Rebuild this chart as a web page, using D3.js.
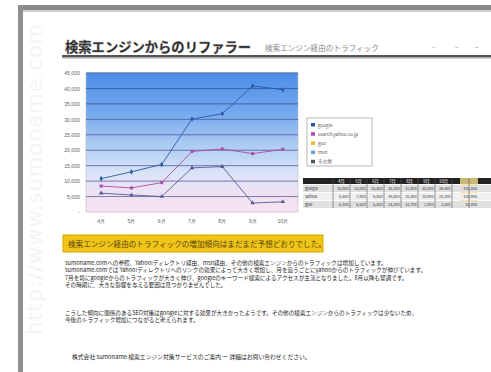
<!DOCTYPE html>
<html><head><meta charset="utf-8">
<script src="https://cdn.jsdelivr.net/npm/d3@7"></script>
<style>
html,body{margin:0;padding:0;background:#fff;overflow:hidden}
svg{display:block;font-family:"Noto Sans CJK JP","Noto Sans",sans-serif}
</style></head>
<body><svg id="c" width="491" height="372"></svg>
<script>
const categories = ["4月","5月","6月","7月","8月","9月","10月"];
const yTicks = [0,5000,10000,15000,20000,25000,30000,35000,40000,45000];
const seriesNames = ["google","search.yahoo.co.jp","goo","msn","その他"];
const tableRowLabels = ["google","yahoo","goo"];
const google = [10800, 13000, 15400, 30100, 31800, 40800, 39600];
const yahoo  = [8400, 7800, 9500, 19600, 20400, 18900, 20300];
const goo    = [6100, 5500, 5000, 14300, 14700, 2900, 3300];
const titleText = "検索エンジンからのリファラー";
const subtitleText = "検索エンジン経由のトラフィック";
const highlightText = "検索エンジン経由のトラフィックの増加傾向はまだまだ予想どおりでした。";
const para1 = [
  "sumoname.comへの参照、Yahoo!ディレクトリ経由、msn経由、その他の検索エンジンからのトラフィックは増加しています。",
  "sumoname.comでは Yahoo!ディレクトリへのリンクの効果によって大きく増加し、月を追うごとにyahooからのトラフィックが伸びています。",
  "7月を境にgoogleからのトラフィックが大きく伸び、googleのキーワード検索によるアクセスが主流となりました。8月以降も堅調です。",
  "その時期に、大きな影響を与える要因は見つかりませんでした。"
];
const para2 = [
  "こうした傾向に関係のあるSEO対策はgoogleに対する効果が大きかったようです。その他の検索エンジンからのトラフィックは少ないため、",
  "今後のトラフィック増加につながると考えられます。"
];
const footText = "株式会社 sumoname 検索エンジン対策サービスのご案内 ー 詳細はお問い合わせください。";

const svg = d3.select("#c");
const defs = svg.append("defs");

// page frame
svg.append("rect").attr("x",18).attr("y",5).attr("width",473).attr("height",5).attr("fill","#8a8a8a");
svg.append("rect").attr("x",18).attr("y",5).attr("width",5).attr("height",367).attr("fill","#8f8f8f");
svg.append("rect").attr("x",23).attr("y",10).attr("width",468).attr("height",2).attr("fill","#d0d0d0");

// watermark
svg.append("text").attr("transform","translate(42,335) rotate(-90)")
  .attr("font-size",21).attr("fill","#f4f4f4").attr("font-family","DejaVu Sans")
  .attr("letter-spacing",1).text("http://www.sumoname.com");

// title
svg.append("text").attr("x",65).attr("y",52).attr("font-size",13.3).attr("font-weight","bold")
  .attr("fill","#222").attr("stroke","#777").attr("stroke-width",0.45).text(titleText);
svg.append("text").attr("x",265).attr("y",51).attr("font-size",7.6).attr("fill","#8a8a8a").text(subtitleText);
svg.append("rect").attr("x",62).attr("y",55).attr("width",429).attr("height",2.5).attr("fill","#555");
svg.append("rect").attr("x",62).attr("y",57.5).attr("width",429).attr("height",1).attr("fill","#aaa");
svg.append("text").attr("x",432).attr("y",49).attr("font-size",6).attr("fill","#c06060").text("–");
svg.append("text").attr("x",455).attr("y",49).attr("font-size",6).attr("fill","#555").text("–");
svg.append("text").attr("x",475).attr("y",49).attr("font-size",6).attr("fill","#555").text("–");

// chart
const x = d3.scaleBand().domain(categories).range([86,298]).padding(0);
const y = d3.scaleLinear().domain([0,45000]).range([212,73]);

const grad = defs.append("linearGradient").attr("id","bg").attr("x1",0).attr("y1",0).attr("x2",0).attr("y2",1);
[[0,"#4a8ee6"],[0.3,"#78aaee"],[0.55,"#b4d0f3"],[0.72,"#d9e4f6"],[0.85,"#ece2f4"],[1,"#f7e3f2"]]
  .forEach(([o,c])=>grad.append("stop").attr("offset",o).attr("stop-color",c));
svg.append("rect").attr("x",86).attr("y",73).attr("width",212).attr("height",139)
  .attr("fill","url(#bg)").attr("stroke","#bbb").attr("stroke-width",0.6);

const gridColor = d3.scaleLinear().domain([0,45000]).range(["#8a7fa8","#2f5fa8"]);
svg.append("g").selectAll("line").data(yTicks.filter(d=>d>0)).join("line")
  .attr("x1",86).attr("x2",298).attr("y1",d=>y(d)).attr("y2",d=>y(d))
  .attr("stroke",d=>gridColor(d)).attr("stroke-width",1);

const yAxis = svg.append("g").attr("transform","translate(80,0)")
  .call(d3.axisLeft(y).tickValues(yTicks).tickSize(0).tickPadding(0)
    .tickFormat(d=> d===0 ? "-" : d3.format(",")(d)));
yAxis.select(".domain").remove();
yAxis.selectAll("text").attr("font-size",5.2).attr("fill","#666").attr("font-family","Liberation Sans");

const xAxis = svg.append("g").attr("transform","translate(0,219)")
  .call(d3.axisBottom(x).tickSize(0).tickPadding(0));
xAxis.select(".domain").remove();
xAxis.selectAll("text").attr("font-size",5.2).attr("fill","#666");

const line = d3.line().x((d,i)=>x(categories[i])+x.bandwidth()/2).y(d=>y(d));
const series = [
  {v:google, c:"#2a58a8", m:"diamond"},
  {v:yahoo,  c:"#b04aa8", m:"square"},
  {v:goo,    c:"#5a5a98", m:"triangle"}
];
series.forEach(s=>{
  svg.append("path").attr("d",line(s.v)).attr("fill","none").attr("stroke",s.c).attr("stroke-width",0.9);
  const sym = d3.symbol().type(s.m==="diamond"?d3.symbolDiamond:s.m==="square"?d3.symbolSquare:d3.symbolTriangle).size(9);
  svg.append("g").selectAll("path").data(s.v).join("path")
    .attr("transform",(d,i)=>`translate(${x(categories[i])+x.bandwidth()/2},${y(d)})`)
    .attr("d",sym).attr("fill",s.c);
});

// legend
svg.append("rect").attr("x",307).attr("y",118).attr("width",65).attr("height",48)
  .attr("fill","#fff").attr("stroke","#888").attr("stroke-width",0.6);
const legColors = ["#2a58a8","#b04aa8","#e0c030","#6aa0d0","#555"];
const leg = svg.append("g").selectAll("g").data(seriesNames).join("g")
  .attr("transform",(d,i)=>`translate(311,${125+i*9.2})`);
leg.append("rect").attr("x",0).attr("y",-2).attr("width",4).attr("height",3.5).attr("fill",(d,i)=>legColors[i]);
leg.append("text").attr("x",7).attr("y",1.5).attr("font-size",4.6).attr("fill","#555").text(d=>d);

// data table
const tx0 = 303, tw0 = 30, tcw = 17, ty0 = 178;
const cols = categories.length;
svg.append("rect").attr("x",tx0).attr("y",ty0).attr("width",191).attr("height",6).attr("fill","#222");
svg.append("rect").attr("x",tx0+tw0+cols*tcw+8).attr("y",ty0).attr("width",18).attr("height",30).attr("fill","#f5e08a").attr("opacity",0.8);
const rows = [google,yahoo,goo];
rows.forEach((r,ri)=>{
  const ry = ty0+7+ri*8;
  svg.append("rect").attr("x",tx0).attr("y",ry).attr("width",191).attr("height",7).attr("fill",ri%2?"#f0f0f0":"#e0e0e0");
  svg.append("text").attr("x",tx0+2).attr("y",ry+5).attr("font-size",4.2).attr("fill","#333").text(tableRowLabels[ri]);
  r.forEach((v,ci)=>{
    svg.append("text").attr("x",tx0+tw0+(ci+1)*tcw-1.5).attr("y",ry+5).attr("text-anchor","end")
      .attr("font-size",3.8).attr("fill","#333").text(d3.format(",")(v));
  });
  svg.append("text").attr("x",tx0+tw0+cols*tcw+25).attr("y",ry+5).attr("text-anchor","end")
    .attr("font-size",3.8).attr("fill","#333").text(d3.format(",")(d3.sum(r)));
});
categories.forEach((c,ci)=>{
  svg.append("text").attr("x",tx0+tw0+ci*tcw+tcw/2).attr("y",ty0+4.6).attr("text-anchor","middle")
    .attr("font-size",4.2).attr("fill","#fff").text(c);
});
for(let ci=0;ci<=cols+1;ci++){
  svg.append("line").attr("x1",tx0+tw0+ci*tcw).attr("x2",tx0+tw0+ci*tcw).attr("y1",ty0).attr("y2",ty0+30)
    .attr("stroke","#555").attr("stroke-width",0.6);
}

// highlight box
svg.append("rect").attr("x",63).attr("y",235).attr("width",260).attr("height",17)
  .attr("fill","#f0c419").attr("stroke","#d8a800").attr("stroke-width",1);
svg.append("text").attr("x",68).attr("y",246.5).attr("font-size",7.6).attr("fill","#5a4400").text(highlightText);

// paragraphs
svg.append("g").selectAll("text").data(para1).join("text")
  .attr("x",65).attr("y",(d,i)=>265+i*7.4).attr("font-size",5.6).attr("fill","#222").text(d=>d);
svg.append("g").selectAll("text").data(para2).join("text")
  .attr("x",65).attr("y",(d,i)=>315+i*7.4).attr("font-size",5.6).attr("fill","#222").text(d=>d);
svg.append("text").attr("x",72).attr("y",359).attr("font-size",5.8).attr("fill","#222").text(footText);
</script></body></html>
